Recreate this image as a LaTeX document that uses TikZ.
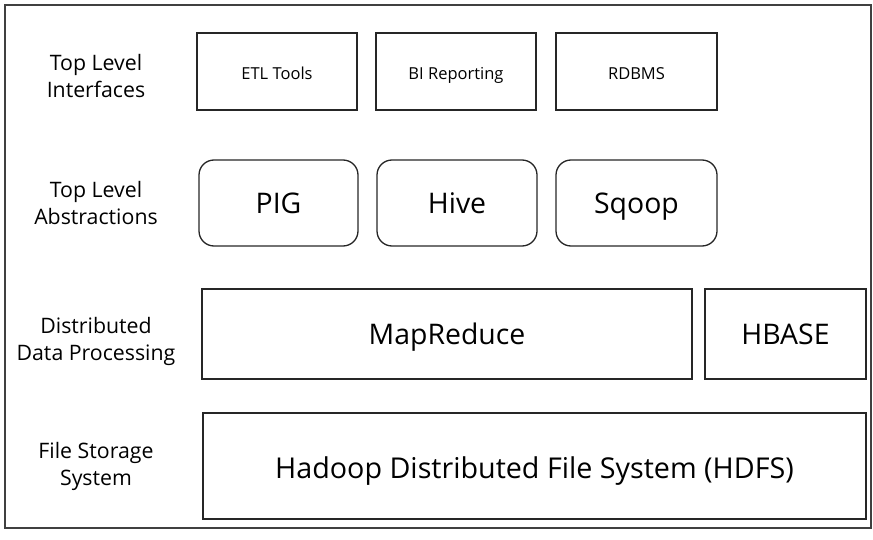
\documentclass[tikz,border=0pt]{standalone}
\usepackage{fontspec}
\setmainfont{Open Sans}
\begin{document}
\begin{tikzpicture}[x=1pt,y=-1pt,
  box/.style={draw=black!85,line width=1.3pt,inner sep=0pt},
  rbox/.style={box,rounded corners=15pt},
  txt/.style={anchor=base,inner sep=0pt},
  lbl/.style={align=center,font=\fontsize{21.3}{27}\selectfont,inner sep=0pt,anchor=base},
  small/.style={txt,font=\fontsize{16.5}{18}\selectfont},
  big/.style={txt,font=\fontsize{28.4}{32}\selectfont}]
\useasboundingbox (0,0) rectangle (873,540);
\draw[draw=black!75,line width=1.5pt] (5,5) rectangle (871,528);
% row 1
\node[box,minimum width=160pt,minimum height=77pt] (etl) at (277,71.5) {};
\node[box,minimum width=160pt,minimum height=77pt] (bi) at (456,71.5) {};
\node[box,minimum width=161pt,minimum height=77pt] (rdbms) at (636.5,71.5) {};
\node[small] (etlt) at (etl.center |- 0,79.5) {ETL Tools};
\node[small] (bit) at (bi.center |- 0,79.5) {BI Reporting};
\node[small] (rdbmst) at (rdbms.center |- 0,79.5) {RDBMS};
% row 2
\node[rbox,minimum width=159pt,minimum height=86pt] (pig) at (278.5,203) {};
\node[rbox,minimum width=160pt,minimum height=86pt] (hive) at (457,203) {};
\node[rbox,minimum width=161pt,minimum height=86pt] (sqoop) at (636.5,203) {};
\node[big] (pigt) at (pig.center |- 0,214) {PIG};
\node[big] (hivet) at (hive.center |- 0,214) {Hive};
\node[big] (sqoopt) at (sqoop.center |- 0,214) {Sqoop};
% row 3
\node[box,minimum width=490pt,minimum height=90pt] (mr) at (447,334) {};
\node[box,minimum width=161pt,minimum height=90pt] (hbase) at (785.5,334) {};
\node[big] (mrt) at (mr.center |- 0,344) {MapReduce};
\node[big] (hbaset) at (hbase.center |- 0,344) {HBASE};
% row 4
\node[box,minimum width=663pt,minimum height=106pt] (hdfs) at (534.5,466) {};
\node[big,font=\fontsize{28.7}{32}\selectfont] (hdfst) at (hdfs.center |- 0,478) {Hadoop Distributed File System (HDFS)};
% labels
\node[lbl] (l1) at (96,98) {Top Level\\Interfaces};
\node[lbl] (l2) at (96,225) {Top Level\\Abstractions};
\node[lbl] (l3) at (96,360) {Distributed\\Data Processing};
\node[lbl] (l4) at (96,485) {File Storage\\System};
\end{tikzpicture}
\end{document}
